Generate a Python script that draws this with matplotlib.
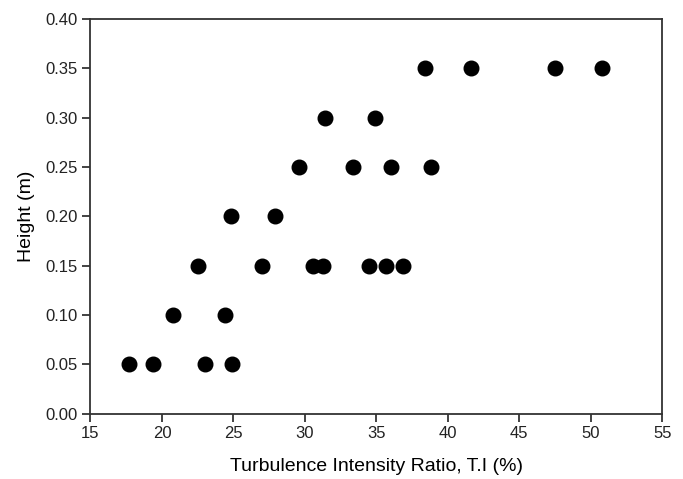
import matplotlib.pyplot as plt

plt.rcParams['font.family'] = ['Liberation Sans', 'DejaVu Sans']

# Turbulence intensity (%), grouped by height
ti_values = [17.7, 19.4, 23.0, 24.9,
             20.8, 24.4,
             22.5, 27.0, 30.6, 31.3, 34.5, 35.7, 36.9,
             24.8, 27.9,
             29.6, 33.4, 36.0, 38.8,
             31.4, 34.9,
             38.4, 41.6, 47.5, 50.8]
heights = [0.05, 0.05, 0.05, 0.05,
           0.10, 0.10,
           0.15, 0.15, 0.15, 0.15, 0.15, 0.15, 0.15,
           0.20, 0.20,
           0.25, 0.25, 0.25, 0.25,
           0.30, 0.30,
           0.35, 0.35, 0.35, 0.35]

x_ticks = [15, 20, 25, 30, 35, 40, 45, 50, 55]
y_ticks = [0.00, 0.05, 0.10, 0.15, 0.20, 0.25, 0.30, 0.35, 0.40]

fig = plt.figure(figsize=(6.83, 4.79), dpi=100)
ax = fig.add_axes([0.1325, 0.1363, 0.837, 0.8237])

ax.scatter(ti_values, heights, s=110, color='black', zorder=3)

ax.set_xlim(15, 55)
ax.set_ylim(0, 0.40)
ax.set_xticks(x_ticks)
ax.set_yticks(y_ticks)
ax.set_yticklabels([f"{v:.2f}" for v in y_ticks])
ax.tick_params(direction='out', length=6, width=1.2, labelsize=12, colors='#222222', pad=3)
for sp in ax.spines.values():
    sp.set_linewidth(1.3)
    sp.set_color('#333333')

ax.set_xlabel('Turbulence Intensity Ratio, T.I (%)', fontsize=14, labelpad=12)
ax.set_ylabel('Height (m)', fontsize=14, labelpad=8)

fig.savefig('out.png', dpi=100)
